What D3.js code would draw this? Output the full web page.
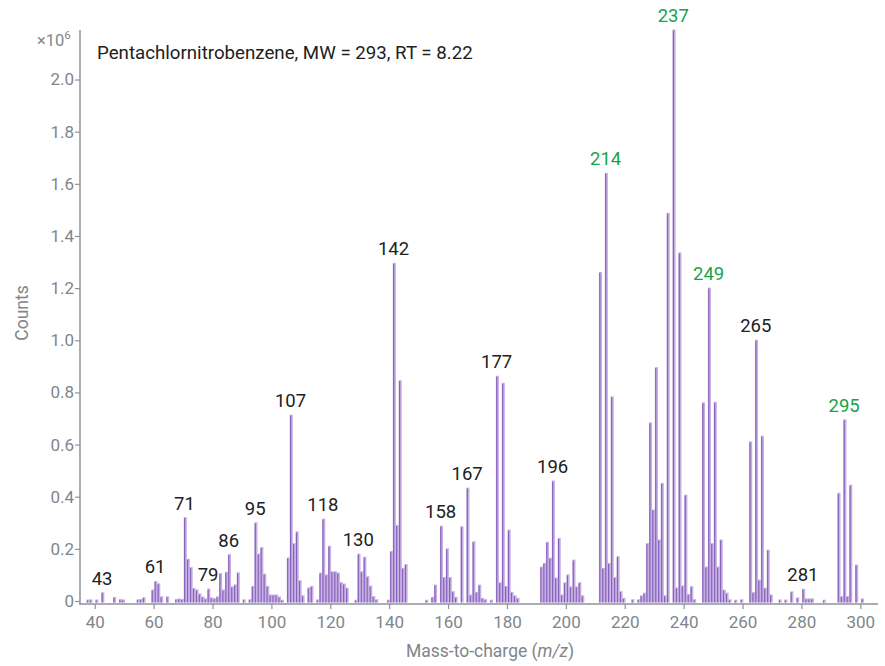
<!DOCTYPE html>
<html>
<head>
<meta charset="utf-8">
<script src="https://cdn.jsdelivr.net/npm/d3@7"></script>
<style>
  html, body { margin: 0; padding: 0; background: #fff; }
  svg { display: block; font-family: Roboto, "Noto Sans", sans-serif; }
</style>
</head>
<body>
<svg id="chart" width="885" height="666"></svg>
<script>
// ---- Data (counts in units of 10^6) ----
const mzValues = [38,39,41,43,47,49,50,55,56,57,60,61,62,63,65,68,69,70,71,72,73,74,75,76,77,78,79,80,81,82,83,84,85,86,87,88,89,91,93,94,95,96,97,98,99,100,101,102,103,104,106,107,108,109,110,111,113,114,116,117,118,119,120,121,122,123,124,125,126,129,130,131,132,133,134,135,136,140,141,142,143,144,145,146,153,155,156,158,159,160,161,162,163,165,167,168,169,170,171,172,173,175,177,178,179,180,181,182,183,184,192,193,194,195,196,197,198,199,200,201,202,203,204,205,206,212,213,214,215,216,217,218,219,220,223,225,226,227,228,229,230,231,232,233,234,235,237,238,239,240,241,242,243,244,247,248,249,250,251,252,253,254,255,256,258,260,263,264,265,266,267,268,269,270,273,275,277,279,281,282,283,284,288,293,294,295,296,297,299,301];
const countValues = [0.004,0.004,0.004,0.032,0.014,0.006,0.004,0.005,0.006,0.013,0.042,0.075,0.066,0.016,0.016,0.006,0.008,0.006,0.32,0.16,0.128,0.048,0.042,0.027,0.015,0.008,0.046,0.012,0.009,0.016,0.105,0.042,0.11,0.178,0.054,0.062,0.108,0.005,0.005,0.056,0.30,0.18,0.205,0.103,0.056,0.023,0.023,0.023,0.015,0.003,0.165,0.713,0.22,0.265,0.078,0.02,0.05,0.056,0.004,0.107,0.314,0.10,0.21,0.112,0.112,0.107,0.07,0.065,0.049,0.003,0.18,0.112,0.168,0.093,0.057,0.017,0.005,0.003,0.19,1.295,0.29,0.845,0.125,0.14,0.003,0.014,0.061,0.287,0.09,0.20,0.09,0.036,0.014,0.285,0.433,0.023,0.227,0.033,0.061,0.01,0.005,0.003,0.862,0.07,0.835,0.056,0.272,0.033,0.02,0.01,0.13,0.144,0.225,0.164,0.46,0.088,0.24,0.023,0.07,0.10,0.054,0.157,0.054,0.07,0.02,1.26,0.125,1.64,0.144,0.783,0.09,0.17,0.036,0.01,0.005,0.005,0.02,0.03,0.22,0.683,0.349,0.895,0.234,0.451,0.02,1.487,2.19,0.05,1.335,0.058,0.406,0.025,0.055,0.005,0.76,0.13,1.2,0.22,0.762,0.13,0.234,0.042,0.03,0.005,0.003,0.005,0.61,0.032,1.0,0.08,0.632,0.049,0.195,0.023,0.004,0.004,0.035,0.012,0.045,0.008,0.008,0.008,0.003,0.413,0.017,0.695,0.017,0.444,0.138,0.008];
const labelMz = [43,61,71,79,86,95,107,118,130,142,158,167,177,196,214,237,249,265,281,295];
const highlightMz = [214,237,249,295];
const xTickValues = [40,60,80,100,120,140,160,180,200,220,240,260,280,300];
const yTickValues = [0,0.2,0.4,0.6,0.8,1.0,1.2,1.4,1.6,1.8,2.0];
const titleText = "Pentachlornitrobenzene, MW = 293, RT = 8.22";

// ---- Layout ----
const svg = d3.select("#chart");
const xs = d3.scaleLinear().domain([35, 306]).range([80, 878]);
const ys = d3.scaleLinear().domain([0, 2.19]).range([601, 30]);
const gray = "#80868b";
const axisGray = "#8e9399";

const data = mzValues.map((m, i) => ({ mz: m, v: countValues[i] }));
const byMz = new Map(data.map(d => [d.mz, d.v]));

// bars: light body + darker core line
const bars = svg.append("g");
bars.selectAll("rect.light").data(data).join("rect")
  .attr("class", "light")
  .attr("x", d => xs(d.mz) - 2.3)
  .attr("width", 3.1)
  .attr("y", d => ys(d.v) - 0.5)
  .attr("height", d => ys(0) - ys(d.v) + 2)
  .attr("fill", "#c6b0e2");
bars.selectAll("rect.dark").data(data).join("rect")
  .attr("class", "dark")
  .attr("x", d => xs(d.mz) - 2.0)
  .attr("width", 1.2)
  .attr("y", d => ys(d.v) + 0.5)
  .attr("height", d => ys(0) - ys(d.v) + 1)
  .attr("fill", "#8862bd");

// axes
const yAxis = d3.axisLeft(ys).tickValues(yTickValues)
  .tickFormat(d => d === 0 ? "0" : d3.format(".1f")(d)).tickSize(5).tickSizeOuter(0);
const gy = svg.append("g").attr("transform", "translate(80,0)").call(yAxis);
gy.select(".domain").remove();
gy.selectAll(".tick line").attr("stroke", axisGray).attr("stroke-width", 1.2);
gy.selectAll(".tick text").attr("fill", gray).attr("font-size", 17).attr("x", -6)
  .attr("font-family", "Roboto, sans-serif");

const xAxis = d3.axisBottom(xs).tickValues(xTickValues).tickSize(5).tickSizeOuter(0);
const gx = svg.append("g").attr("transform", "translate(0,604)").call(xAxis);
gx.select(".domain").remove();
gx.selectAll(".tick line").attr("stroke", axisGray).attr("stroke-width", 1.2);
gx.selectAll(".tick text").attr("fill", gray).attr("font-size", 17).attr("dy", "0.95em")
  .attr("font-family", "Roboto, sans-serif");

svg.append("line").attr("x1", 80).attr("x2", 80).attr("y1", 30).attr("y2", 604.5)
  .attr("stroke", axisGray).attr("stroke-width", 1.5);
svg.append("line").attr("x1", 79.3).attr("x2", 878).attr("y1", 604).attr("y2", 604)
  .attr("stroke", axisGray).attr("stroke-width", 1.5);

// exponent label
const ex = svg.append("text").attr("x", 37).attr("y", 46).attr("fill", gray)
  .attr("font-size", 16.5);
ex.append("tspan").text("×10");
ex.append("tspan").attr("dy", -7).attr("font-size", 11.5).text("6");

// axis titles
svg.append("text").attr("transform", "translate(28,313) rotate(-90)")
  .attr("text-anchor", "middle").attr("fill", gray).attr("font-size", 17.5).text("Counts");
const xt = svg.append("text").attr("x", 490).attr("y", 657).attr("text-anchor", "middle")
  .attr("fill", gray).attr("font-size", 17.5);
xt.append("tspan").text("Mass-to-charge (");
xt.append("tspan").attr("font-style", "italic").text("m/z");
xt.append("tspan").text(")");

// title
svg.append("text").attr("x", 97).attr("y", 59).attr("fill", "#212121")
  .attr("font-size", 18.7).text(titleText);

// peak labels
svg.append("g").selectAll("text").data(labelMz).join("text")
  .attr("x", d => xs(d) - 1.5)
  .attr("y", d => ys(byMz.get(d)) - 8)
  .attr("text-anchor", "middle")
  .attr("font-size", 18.5)
  .attr("fill", d => highlightMz.includes(d) ? "#17a34a" : "#212121")
  .text(d => d);
</script>
</body>
</html>
